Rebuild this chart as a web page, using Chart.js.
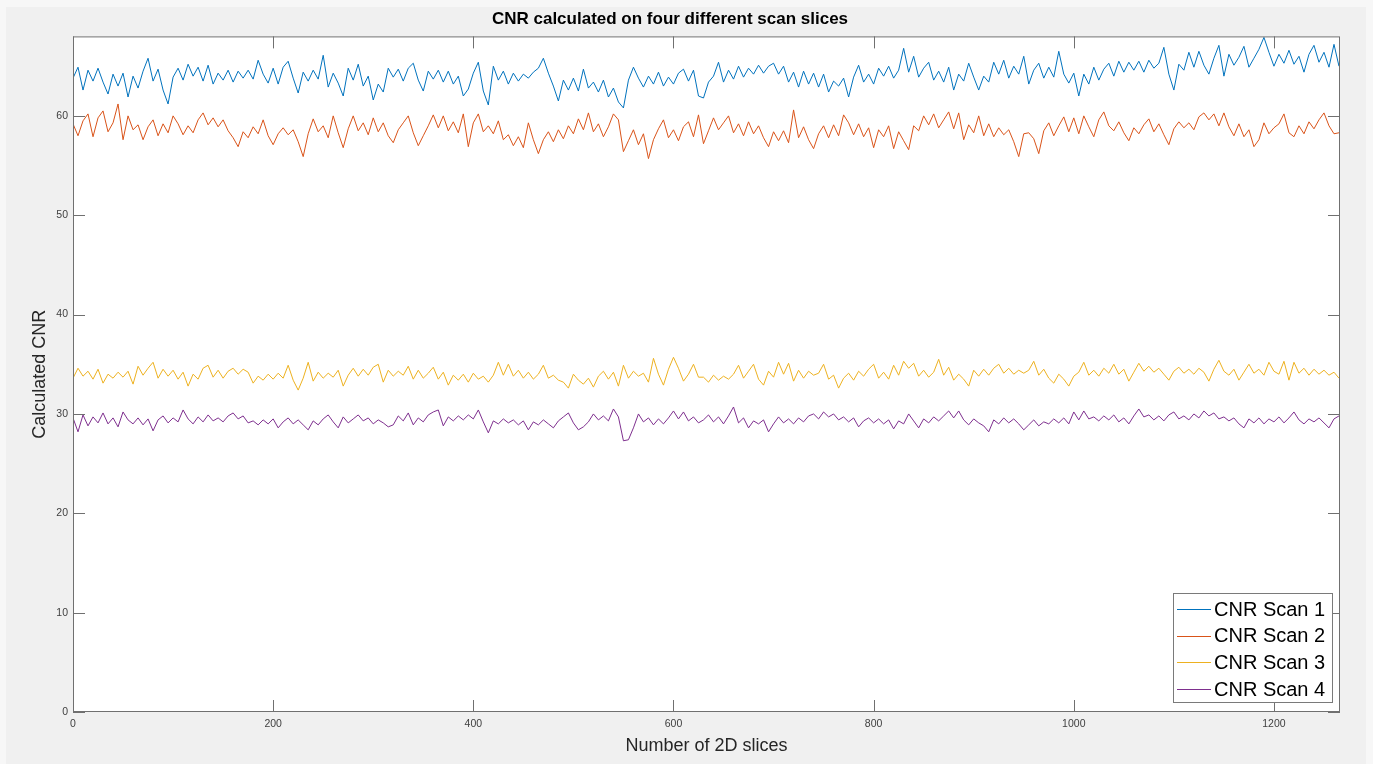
<!DOCTYPE html>
<html>
<head>
<meta charset="utf-8">
<script src="https://cdn.jsdelivr.net/npm/chart.js@4.4.1/dist/chart.umd.min.js"></script>
<style>
  html, body { margin: 0; padding: 0; background: #f7f7f7; }
  #wrap { position: absolute; left: 0; top: 0; width: 1373px; height: 764px; }
</style>
</head>
<body>
<div id="wrap"><canvas id="cnr" width="1373" height="764"></canvas></div>
<script>
// values, one sample every 5 slices (0 .. 1265)
const SLICE_STEP = 5;

const scan1 = [
  63.8, 64.9, 62.6, 64.6, 63.5, 64.8, 63.4, 62.2, 64.2, 63.0, 64.3, 61.9, 64.0, 62.8, 64.5, 65.8, 63.5, 64.7, 62.6, 61.2,
  63.9, 64.8, 63.6, 65.2, 64.0, 64.9, 63.5, 65.1, 63.2, 64.3, 63.6, 64.6, 63.4, 64.5, 63.8, 64.6, 63.7, 65.6, 64.2, 63.3,
  64.8, 63.2, 64.9, 65.5, 63.8, 62.3, 64.4, 63.5, 64.6, 63.7, 66.1, 62.9, 64.3, 63.3, 62.0, 64.8, 63.6, 65.2, 63.0, 64.0,
  61.6, 63.2, 62.4, 64.8,
  63.9, 64.7, 63.5, 64.8, 65.3, 63.6, 62.5, 64.5, 63.7, 64.6, 63.4, 64.5, 63.2, 64.0, 62.0, 62.7, 64.3, 65.4, 62.5, 61.1,
  65.0, 63.6, 64.5, 63.2, 64.3, 63.5, 64.2, 63.8, 64.4, 64.8, 65.8, 64.3, 63.0, 61.5, 63.6, 62.6, 63.8, 62.5, 64.7, 62.8,
  63.4, 62.4, 63.6, 61.9, 62.8, 61.4, 60.8, 63.6, 64.9, 63.8, 62.9, 64.0, 63.2, 64.4, 63.0, 63.9, 63.2, 64.3, 64.7, 63.5,
  64.6, 62.0,
  61.8, 63.4, 64.0, 65.4, 63.4, 64.6, 63.7, 65.0, 63.9, 64.8, 64.2, 65.1, 64.3, 65.0, 65.3, 64.2, 65.0, 63.4, 64.4, 62.9,
  64.5, 63.2, 64.3, 62.9, 64.2, 62.4, 63.5, 63.0, 63.8, 61.9, 63.9, 65.1, 63.4, 64.2, 63.2, 64.8, 64.0, 65.0, 63.8, 64.6,
  66.8, 64.4, 66.0, 63.9, 64.8, 65.4, 63.6, 64.5, 63.4, 64.9, 62.6, 64.2, 63.5, 65.3, 63.9, 62.6, 64.0, 63.4, 65.4, 64.2,
  65.6, 63.8, 65.0, 64.2, 66.0,
  63.2, 64.6, 65.3, 63.8, 64.9, 63.9, 66.5, 64.2, 63.3, 64.3, 62.0, 64.2, 63.2, 64.9, 63.6, 64.7, 65.3, 64.0, 65.5, 64.4,
  65.4, 64.6, 65.5, 64.4, 65.6, 64.8, 65.3, 66.9, 64.2, 62.6, 65.2, 64.6, 66.4, 64.9, 66.5, 65.1, 64.2, 65.8, 67.1, 64.0,
  66.2, 65.1, 65.9, 67.0, 64.9, 65.8, 66.7, 67.9, 66.4, 65.0, 66.2, 65.3, 66.6, 65.2, 66.0, 64.4, 66.2, 67.1, 65.4, 66.4,
  64.9, 67.2, 65.0
];

const scan2 = [
  59.2, 58.0, 59.5, 60.2, 57.9, 59.8, 60.5, 58.4, 59.3, 61.2, 57.6, 60.0, 58.6, 59.1, 57.6, 58.9, 59.6, 58.0, 59.2, 58.3,
  60.0, 59.2, 58.1, 59.0, 58.3, 59.6, 60.3, 59.1, 59.8, 58.9, 59.6, 58.5, 57.8, 56.9, 58.4, 57.8, 58.9, 58.2, 59.6, 58.0,
  57.1, 58.2, 58.8, 58.1, 58.6, 57.4, 55.9, 58.2, 59.7, 58.4, 59.0, 57.8, 60.0, 58.3, 56.8, 58.7, 60.0, 58.5, 59.3, 58.1,
  59.8, 58.4, 59.3, 58.0,
  57.3, 58.6, 59.3, 60.0, 58.3, 57.0, 58.0, 59.0, 60.1, 58.8, 60.0, 58.5, 59.4, 58.3, 60.2, 56.9, 59.3, 60.2, 58.4, 59.0,
  58.2, 59.5, 57.6, 58.1, 57.0, 57.9, 56.8, 59.3, 57.6, 56.2, 57.6, 58.4, 57.4, 58.6, 57.7, 59.0, 58.2, 59.7, 58.6, 60.3,
  58.4, 59.2, 57.9, 58.9, 60.2, 59.6, 56.4, 57.5, 58.6, 57.1, 58.2, 55.7, 57.6, 58.7, 59.6, 57.8, 58.6, 57.5, 58.9, 59.4,
  57.9, 60.1,
  57.2, 58.5, 59.8, 58.6, 59.3, 60.0, 58.3, 59.2, 58.0, 59.4, 58.2, 59.0, 57.8, 56.9, 58.4, 57.5, 58.5, 57.3, 60.6, 57.8,
  58.9, 57.6, 56.7, 58.2, 59.0, 57.8, 59.1, 58.0, 60.1, 59.3, 58.1, 59.2, 57.9, 58.8, 56.8, 58.6, 57.9, 59.0, 56.7, 58.4,
  57.5, 56.6, 59.0, 58.5, 60.0, 59.1, 60.2, 58.8, 59.6, 60.4, 58.7, 60.3, 57.6, 59.1, 58.3, 60.0, 58.0, 59.2, 57.9, 58.8,
  58.1, 58.6, 57.4, 55.9, 58.2,
  58.3, 57.7, 56.2, 58.5, 59.3, 58.0, 59.0, 59.9, 58.4, 59.8, 58.2, 60.0, 58.9, 57.9, 59.6, 60.4, 59.0, 58.5, 59.4, 58.3,
  57.5, 58.8, 58.2, 59.1, 59.7, 58.4, 59.2, 58.1, 57.1, 58.7, 59.4, 58.8, 59.3, 58.6, 59.9, 60.3, 59.6, 60.2, 59.0, 60.3,
  58.9, 58.0, 59.2, 57.9, 58.6, 56.9, 57.6, 59.3, 58.2, 58.8, 59.2, 60.2, 58.3, 57.9, 59.0, 58.2, 59.4, 58.7, 59.6, 60.3,
  59.0, 58.2, 58.3
];

const scan3 = [
  33.6, 34.6, 33.8, 34.3, 33.5, 34.5, 33.1, 34.0, 33.6, 34.2, 33.7, 34.3, 33.0, 34.8, 33.9, 34.6, 35.2, 33.6, 34.5, 33.8,
  34.4, 33.5, 34.2, 32.8, 34.0, 33.5, 34.6, 34.9, 33.7, 34.4, 33.6, 34.3, 34.6, 34.0, 34.5, 34.2, 33.1, 33.8, 33.4, 34.0,
  33.5, 34.1, 33.6, 34.9, 33.4, 32.4, 33.6, 35.2, 33.3, 34.2, 33.6, 34.1, 33.7, 34.4, 32.8, 33.9, 34.6, 33.8, 34.5, 33.9,
  34.7, 35.0, 33.2, 34.4,
  33.8, 34.3, 33.9, 34.8, 33.5, 34.4, 33.6, 34.1, 34.7, 33.5, 34.2, 32.9, 33.9, 33.4, 34.0, 33.2, 34.1, 33.5, 33.8, 33.2,
  33.9, 35.2, 33.9, 35.0, 33.8, 34.4, 33.6, 34.2, 33.5, 34.0, 34.9, 33.6, 33.9, 33.4, 33.2, 32.6, 34.0, 33.4, 33.0, 33.6,
  32.7, 33.8, 34.3, 33.5, 34.2, 32.8, 34.9, 33.6, 34.3, 33.8, 34.1, 33.2, 35.6, 34.0, 32.9, 34.5, 35.7, 34.6, 33.3, 34.0,
  35.0, 33.7,
  33.7, 33.2, 33.9, 33.4, 33.8, 33.5, 34.0, 34.9, 33.6, 34.3, 35.0, 33.5, 32.9, 34.3, 33.7, 35.2, 34.0, 35.1, 33.3, 34.4,
  33.6, 34.3, 33.9, 34.1, 35.0, 33.5, 33.9, 32.6, 33.6, 34.1, 33.4, 34.3, 33.8, 34.5, 35.0, 33.6, 34.2, 33.5, 34.9, 33.9,
  35.3, 34.6, 35.1, 33.8, 34.4, 33.7, 34.2, 35.5, 33.9, 34.7, 33.4, 34.0, 33.5, 32.8, 34.4, 33.8, 34.5, 33.9, 34.6, 35.0,
  34.1, 34.6, 34.0, 34.4, 34.1,
  34.4, 35.3, 33.9, 34.5, 33.6, 33.1, 34.0, 33.5, 32.8, 33.8, 34.2, 35.2, 33.9, 34.4, 33.8, 34.6, 34.1, 35.0, 34.0, 34.5,
  33.3, 34.2, 35.1, 34.3, 34.8, 34.2, 34.6, 34.0, 33.4, 34.3, 34.7, 34.1, 34.5, 34.0, 34.6, 34.2, 33.3, 34.5, 35.4, 34.3,
  33.9, 34.5, 33.4, 34.2, 35.0, 34.1, 34.5, 33.9, 35.2, 34.3, 34.0, 35.3, 33.4, 35.2, 34.1, 34.6, 33.9, 34.5, 34.0, 34.4,
  33.9, 34.2, 33.6
];

const scan4 = [
  29.6, 28.2, 29.9, 28.8, 29.7, 29.1, 30.1, 29.0, 29.6, 28.7, 30.2, 29.4, 29.0, 29.6, 28.9, 29.5, 28.3, 29.4, 29.8, 29.1,
  29.6, 29.2, 30.4, 29.5, 29.0, 29.7, 29.2, 29.9, 29.3, 29.6, 29.2, 29.8, 30.1, 29.5, 29.8, 29.1, 29.3, 28.9, 29.4, 29.0,
  29.5, 28.6, 29.2, 29.6, 29.0, 29.4, 28.9, 28.4, 29.3, 28.9, 29.5, 29.9, 29.2, 28.6, 29.7, 29.1, 29.5, 29.9, 29.3, 29.6,
  29.0, 29.4, 29.1, 28.7,
  28.9, 29.8, 29.3, 30.1, 28.9, 29.6, 29.2, 29.9, 30.2, 30.4, 28.8, 29.7, 29.3, 29.8, 29.4, 29.9, 29.5, 30.4, 29.2, 28.1,
  29.3, 29.0, 29.5, 29.1, 29.4, 28.9, 29.3, 28.4, 29.2, 28.9, 29.4, 29.0, 28.6, 29.3, 29.7, 30.1, 29.1, 28.4, 28.7, 29.2,
  30.0, 29.4, 29.8, 29.3, 30.5, 29.7, 27.3, 27.4, 28.6, 30.0, 29.2, 29.6, 28.9, 29.5, 29.0, 29.6, 30.3, 29.5, 30.2, 29.3,
  29.7, 29.1,
  29.4, 29.9, 29.2, 29.7, 29.0, 29.8, 30.7, 29.1, 29.6, 28.6, 29.3, 29.0, 29.4, 28.2, 29.0, 29.7, 29.1, 29.5, 29.0, 29.6,
  29.2, 29.8, 30.0, 29.5, 30.2, 29.7, 30.0, 29.4, 29.7, 29.2, 29.6, 28.7, 29.3, 29.6, 29.1, 29.5, 29.0, 29.4, 28.5, 29.3,
  29.0, 30.0, 29.3, 28.6, 29.5, 29.1, 29.7, 29.3, 29.8, 30.3, 29.6, 30.3, 29.4, 28.9, 29.5, 29.1, 28.8, 28.2, 29.4, 29.0,
  29.6, 29.1, 29.5, 29.0, 28.4,
  28.9, 29.4, 28.8, 29.2, 29.0, 29.5, 29.1, 29.6, 29.0, 30.2, 29.4, 30.3, 29.5, 29.7, 29.3, 29.8, 29.4, 29.9, 29.2, 29.6,
  29.0, 29.8, 30.5, 29.7, 29.9, 29.4, 29.8, 29.3, 29.9, 30.2, 29.5, 29.8, 29.4, 30.0, 29.6, 30.3, 29.8, 30.1, 29.5, 29.7,
  29.3, 29.6, 29.0, 28.6, 29.5, 29.1, 29.6, 29.0, 29.5, 29.2, 29.7, 29.1, 29.6, 30.2, 29.4, 29.0, 29.5, 29.2, 29.6, 29.1,
  28.6, 29.5, 29.8
];

const scanNames = ['CNR Scan 1', 'CNR Scan 2', 'CNR Scan 3', 'CNR Scan 4'];
const scanColors = ['#0072BD', '#D95319', '#EDB120', '#7E2F8E'];

const slices = scan1.map((v, i) => i * SLICE_STEP);

const FONT = "'Liberation Sans', Arial, Helvetica, sans-serif";

function toPoints(values) {
  return values.map((v, i) => ({ x: slices[i], y: v }));
}

// grey figure background + white axes background
const figureBg = {
  id: 'figureBg',
  beforeDraw(chart) {
    const ctx = chart.ctx;
    const a = chart.chartArea;
    ctx.save();
    ctx.fillStyle = '#f7f7f7';
    ctx.fillRect(0, 0, chart.width, chart.height);
    ctx.fillStyle = '#f0f0f0';
    ctx.fillRect(6, 7, 1360, chart.height - 7);
    ctx.fillStyle = '#ffffff';
    ctx.fillRect(a.left, a.top, a.right - a.left, a.bottom - a.top);
    ctx.restore();
  }
};

// matlab style box with inward ticks on all four sides, plus the legend
const axesBox = {
  id: 'axesBox',
  afterDatasetsDraw(chart) {
    const ctx = chart.ctx;
    const a = chart.chartArea;
    const xs = chart.scales.x, ys = chart.scales.y;
    const tl = 12;
    ctx.save();
    ctx.strokeStyle = '#707070';
    ctx.lineWidth = 1;
    ctx.strokeRect(a.left + 0.5, a.top + 0.5, a.right - a.left - 1, a.bottom - a.top - 1);
    ctx.beginPath();
    xs.ticks.forEach(t => {
      const px = Math.round(xs.getPixelForValue(t.value)) + 0.5;
      ctx.moveTo(px, a.bottom); ctx.lineTo(px, a.bottom - tl);
      ctx.moveTo(px, a.top); ctx.lineTo(px, a.top + tl);
    });
    ys.ticks.forEach(t => {
      const py = Math.round(ys.getPixelForValue(t.value)) + 0.5;
      ctx.moveTo(a.left, py); ctx.lineTo(a.left + tl, py);
      ctx.moveTo(a.right, py); ctx.lineTo(a.right - tl, py);
    });
    ctx.stroke();

    // legend
    const lx = a.right - 167, ly = a.bottom - 119, lw = 159, lh = 109;
    ctx.fillStyle = '#ffffff';
    ctx.fillRect(lx, ly, lw, lh);
    ctx.strokeStyle = '#7a7a7a';
    ctx.strokeRect(lx + 0.5, ly + 0.5, lw, lh);
    ctx.font = '20px ' + FONT;
    ctx.textBaseline = 'middle';
    ctx.fillStyle = '#000000';
    chart.data.datasets.forEach((ds, i) => {
      const ry = ly + 16 + i * 26.7;
      ctx.strokeStyle = ds.borderColor;
      ctx.beginPath();
      ctx.moveTo(lx + 4, Math.round(ry) + 0.5);
      ctx.lineTo(lx + 38, Math.round(ry) + 0.5);
      ctx.stroke();
      ctx.fillText(ds.label, lx + 41, ry + 1);
    });
    ctx.restore();
  }
};

new Chart(document.getElementById('cnr'), {
  type: 'line',
  data: {
    datasets: scanNames.map((name, i) => ({
      label: name,
      data: toPoints([scan1, scan2, scan3, scan4][i]),
      borderColor: scanColors[i],
      backgroundColor: scanColors[i],
      borderWidth: 1,
      pointRadius: 0,
      tension: 0,
      fill: false
    }))
  },
  options: {
    responsive: false,
    animation: false,
    devicePixelRatio: 1,
    layout: { padding: { left: 0, top: 0, right: 33, bottom: 0 } },
    plugins: {
      legend: { display: false },
      tooltip: { enabled: false },
      title: {
        display: true,
        text: 'CNR calculated on four different scan slices',
        color: '#000000',
        font: { family: FONT, size: 17, weight: 'bold' },
        padding: { top: 9, bottom: 7 }
      }
    },
    scales: {
      x: {
        type: 'linear',
        min: 0,
        max: 1266,
        grid: { display: false, drawTicks: false },
        border: { display: false },
        ticks: {
          stepSize: 200,
          includeBounds: false,
          maxRotation: 0,
          color: '#404040',
          padding: 6,
          font: { family: FONT, size: 10.5 },
          callback: v => String(v)
        },
        title: {
          display: true,
          text: 'Number of 2D slices',
          color: '#262626',
          font: { family: FONT, size: 18 },
          padding: { top: 0, bottom: 7 }
        },
        afterFit(scale) { scale.height = 52; }
      },
      y: {
        min: 0,
        max: 68,
        grid: { display: false, drawTicks: false },
        border: { display: false },
        ticks: {
          stepSize: 10,
          includeBounds: false,
          color: '#404040',
          padding: 5,
          font: { family: FONT, size: 10.5 },
          callback: v => String(v)
        },
        title: {
          display: true,
          text: 'Calculated CNR',
          color: '#262626',
          font: { family: FONT, size: 18 },
          padding: { top: 29, bottom: 0 }
        },
        afterFit(scale) { scale.width = 73; }
      }
    }
  },
  plugins: [figureBg, axesBox]
});
</script>
</body>
</html>
